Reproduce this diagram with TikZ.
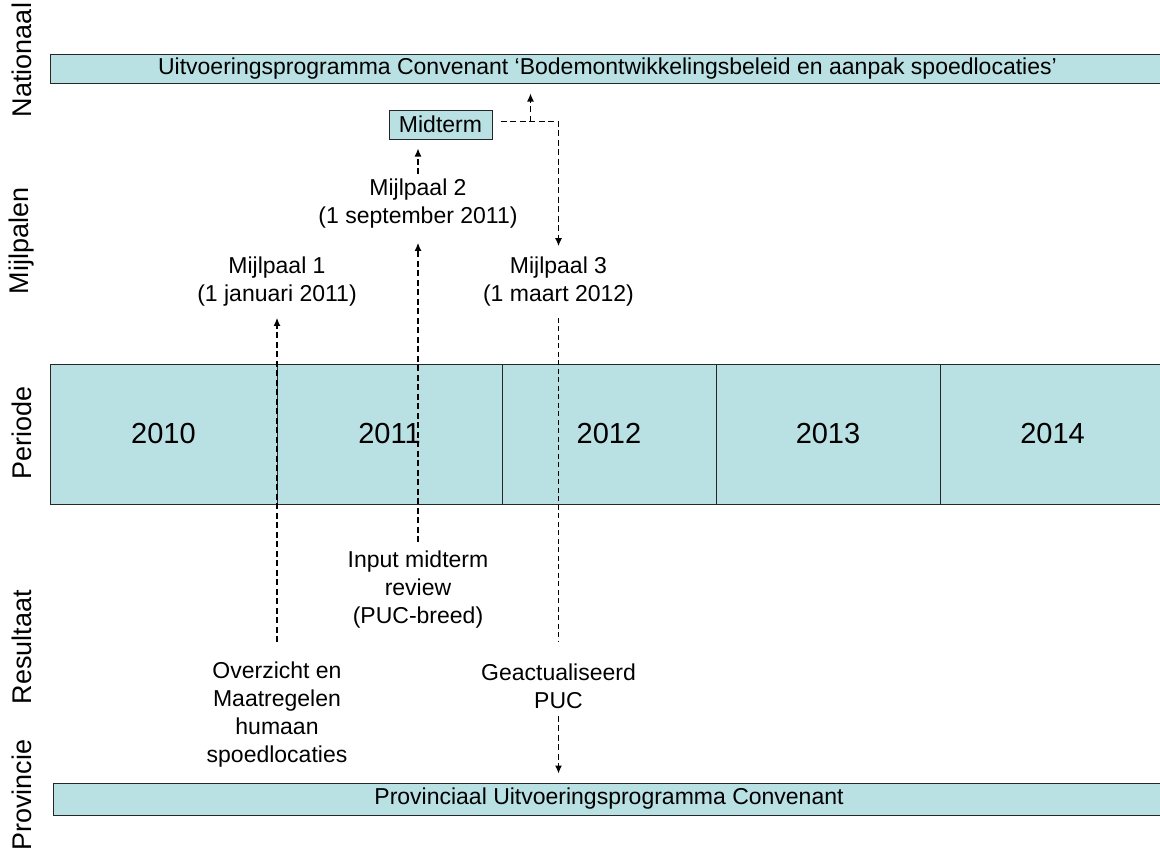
\documentclass[tikz,border=0pt]{standalone}
\usepackage{fontspec}
\setmainfont{Liberation Sans}
\usetikzlibrary{positioning,arrows.meta,calc}
\definecolor{bandblue}{RGB}{185,224,227}

\begin{document}
\begin{tikzpicture}[x=1pt,y=-1pt,
  lane/.style={rotate=90,inner sep=0pt,font=\fontsize{27}{30}\selectfont},
  band/.style={draw=black!85,fill=bandblue,line width=1pt,minimum height=29pt,inner sep=0pt,font=\fontsize{23}{28}\selectfont},
  yearbox/.style={band,minimum height=140pt,font=\fontsize{29}{34}\selectfont},
  txt/.style={align=center,inner sep=0pt,font=\fontsize{23}{28}\selectfont},
  flow/.style={line width=1.2pt,dash pattern=on 6pt off 3.5pt,-{Latex[length=8pt,width=7pt]}},
  link/.style={line width=1pt,dash pattern=on 5pt off 3.5pt}]
  \useasboundingbox (0,0) rectangle (1160,863);

  % lanes
  \node[lane] (l-nat)  at (22,60)  {Nationaal};
  \node[lane] (l-mijl) at (22,241) {Mijlpalen};
  \node[lane] (l-per)  at (22,433) {Periode};
  \node[lane] (l-res)  at (22,647) {Resultaat};
  \node[lane] (l-prov) at (22,795) {Provincie};

  % national programme
  \node[band,minimum width=1115pt] (natbar) at (607.5,68.5) {Uitvoeringsprogramma Convenant ‘Bodemontwikkelingsbeleid en aanpak spoedlocaties’};
  \node[band,minimum width=103pt] (midterm) at (440.5,124.5) {Midterm};

  % periods
  \foreach \yr/\x/\w in {2010/163.5/227,2011/389.5/225,2012/609/214,2013/828/224,2014/1052.5/225}
    \node[yearbox,minimum width=\w pt] (y\yr) at (\x,434) {\yr};

  % milestones and results
  \node[txt] (m1) at (277,282) {Mijlpaal 1\\(1 januari 2011)};
  \node[txt] (m2) at (418,204) {Mijlpaal 2\\(1 september 2011)};
  \node[txt] (m3) at (558.5,282) {Mijlpaal 3\\(1 maart 2012)};
  \node[txt] (r1) at (277,715) {Overzicht en\\Maatregelen\\humaan\\spoedlocaties};
  \node[txt] (r2) at (418,590) {Input midterm\\review\\(PUC-breed)};
  \node[txt] (r3) at (558.5,686) {Geactualiseerd\\PUC};

  % provincial programme
  \node[band,minimum width=1112pt,minimum height=32pt] (provbar) at (609,799) {Provinciaal Uitvoeringsprogramma Convenant};

  % connectors
  \draw[flow,shorten <=20pt,shorten >=11pt] (r1) -- (m1);
  \draw[flow,shorten <=9pt,shorten >=14pt] (r2) -- (m2);
  \draw[flow,shorten >=9pt] ([yshift=5pt]m2.north) -- (m2.north |- midterm.south);
  \coordinate (split) at ($(midterm.east)+(38,-3)$);
  \draw[flow,shorten <=8pt] ([yshift=3pt]midterm.east) -| ([yshift=11pt]m3.north);
  \draw[flow,shorten >=10pt] (split) -- (split |- natbar.south);
  \draw[link,shorten <=11pt,shorten >=21pt] (m3) -- (r3);
  \draw[flow,shorten <=7pt,shorten >=9pt] (r3.south) -- (r3.south |- provbar.north);
\end{tikzpicture}
\end{document}
